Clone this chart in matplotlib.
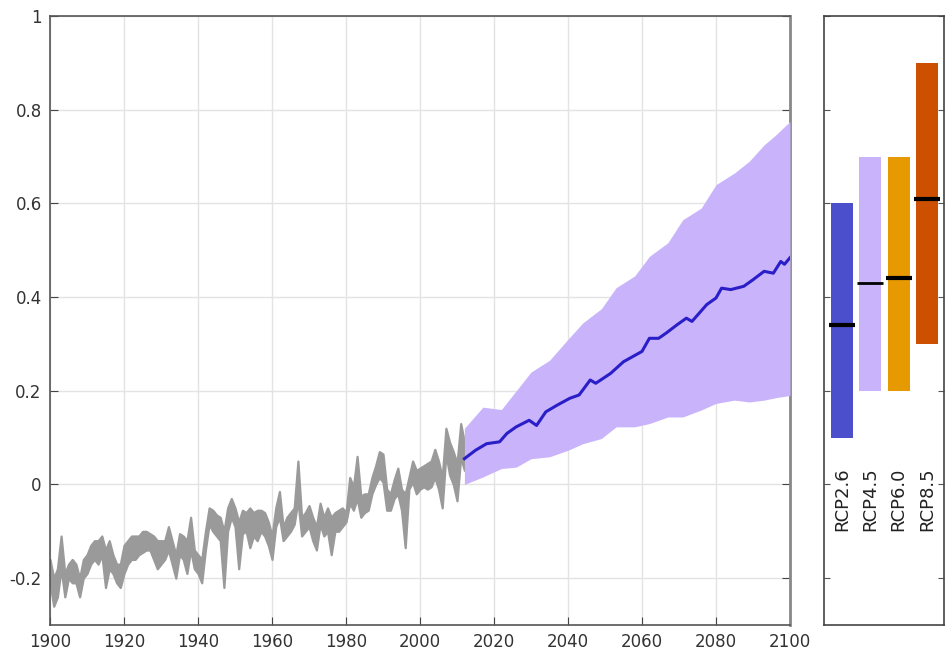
import matplotlib
matplotlib.use("Agg")
import matplotlib.pyplot as plt
import numpy as np

# historical record, 1900-2012: lower / upper edge of grey band
hist_years = np.arange(1900, 2013)
hist_low = [
    -0.21, -0.26, -0.24, -0.18, -0.24, -0.20, -0.21, -0.21, -0.24, -0.20,
    -0.19, -0.17, -0.16, -0.17, -0.15, -0.22, -0.18, -0.19, -0.21, -0.22,
    -0.19, -0.17, -0.16, -0.16, -0.15, -0.145, -0.14, -0.14, -0.16, -0.18,
    -0.17, -0.16, -0.14, -0.17, -0.20, -0.15, -0.16, -0.19, -0.14, -0.18,
    -0.19, -0.21, -0.14, -0.085, -0.10, -0.11, -0.12, -0.22, -0.10, -0.07,
    -0.09, -0.18, -0.105, -0.10, -0.135, -0.11, -0.12, -0.10, -0.11, -0.13,
    -0.16, -0.09, -0.07, -0.12, -0.11, -0.10, -0.085, -0.035, -0.11, -0.10,
    -0.09, -0.12, -0.14, -0.085, -0.11, -0.10, -0.15, -0.10, -0.10, -0.09,
    -0.08, -0.04, -0.055, -0.03, -0.07, -0.06, -0.055, -0.02, 0.0, 0.015,
    0.005, -0.055, -0.055, -0.03, -0.02, -0.055, -0.135, -0.01, 0.005, -0.02,
    -0.01, -0.005, -0.01, -0.005, 0.015, -0.01, -0.05, 0.065, 0.02, 0.0,
    -0.035, 0.058, 0.03,
]
hist_high = [
    -0.16, -0.20, -0.18, -0.11, -0.19, -0.17, -0.16, -0.17, -0.20, -0.16,
    -0.15, -0.13, -0.12, -0.12, -0.11, -0.14, -0.12, -0.15, -0.17, -0.17,
    -0.13, -0.12, -0.11, -0.11, -0.11, -0.10, -0.10, -0.105, -0.11, -0.12,
    -0.12, -0.12, -0.09, -0.12, -0.15, -0.105, -0.11, -0.12, -0.07, -0.14,
    -0.15, -0.16, -0.10, -0.05, -0.055, -0.065, -0.07, -0.10, -0.05, -0.03,
    -0.05, -0.08, -0.055, -0.06, -0.05, -0.06, -0.055, -0.055, -0.06, -0.08,
    -0.11, -0.05, -0.015, -0.09, -0.07, -0.06, -0.05, 0.05, -0.07, -0.06,
    -0.045, -0.07, -0.09, -0.04, -0.07, -0.05, -0.07, -0.06, -0.055, -0.05,
    -0.06, 0.015, -0.005, 0.06, -0.025, -0.02, -0.02, 0.015, 0.04, 0.07,
    0.065, -0.01, -0.02, 0.01, 0.035, -0.01, -0.02, 0.015, 0.05, 0.03,
    0.035, 0.04, 0.045, 0.05, 0.075, 0.05, 0.015, 0.12, 0.09, 0.07,
    0.045, 0.13, 0.09,
]

# projection range (purple band)
proj_years = [2012, 2017, 2022, 2026, 2030, 2035, 2040, 2044, 2049, 2053, 2058,
              2062, 2067, 2071, 2076, 2080, 2085, 2089, 2093, 2096, 2100]
proj_high = [0.12, 0.165, 0.16, 0.20, 0.24, 0.265, 0.31, 0.345, 0.375, 0.42, 0.445,
             0.487, 0.516, 0.565, 0.59, 0.64, 0.665, 0.69, 0.725, 0.745, 0.775]
proj_low = [0.0, 0.016, 0.034, 0.037, 0.055, 0.059, 0.073, 0.087, 0.098, 0.123, 0.123,
            0.13, 0.144, 0.144, 0.159, 0.173, 0.18, 0.176, 0.18, 0.185, 0.19]

# projection mean (blue line)
mean_years = [2012, 2015, 2018, 2021.5, 2023.5, 2026, 2029.5, 2031.5, 2034, 2037,
              2040.5, 2043, 2046, 2047.5, 2051.5, 2055, 2057.5, 2060, 2062, 2064.5,
              2066.5, 2069.5, 2072, 2073.5, 2077.5, 2080, 2081.5, 2084, 2087.5,
              2090, 2093, 2095.5, 2097.5, 2098.5, 2100]
mean_vals = [0.055, 0.073, 0.087, 0.091, 0.109, 0.123, 0.137, 0.126, 0.155, 0.169,
             0.184, 0.191, 0.223, 0.216, 0.237, 0.262, 0.273, 0.284, 0.312, 0.312,
             0.323, 0.341, 0.355, 0.348, 0.384, 0.398, 0.419, 0.416, 0.423,
             0.437, 0.455, 0.451, 0.476, 0.47, 0.484]

# scenario ranges for the side panel
scenarios = ["RCP2.6", "RCP4.5", "RCP6.0", "RCP8.5"]
scen_low = [0.10, 0.20, 0.20, 0.30]
scen_high = [0.60, 0.70, 0.70, 0.90]
scen_mid = [0.34, 0.43, 0.44, 0.61]
scen_colors = ["#4b4fcb", "#c9b4fc", "#e69900", "#cc5000"]

yticks = [-0.2, 0, 0.2, 0.4, 0.6, 0.8, 1]
ytick_labels = ["-0.2", "0", "0.2", "0.4", "0.6", "0.8", "1"]
xticks = list(range(1900, 2101, 20))

W, H = 952, 653
fig = plt.figure(figsize=(W / 100, H / 100), dpi=100)
ax = fig.add_axes([50 / W, 1 - 625 / H, 740 / W, 609 / H])
ax2 = fig.add_axes([824 / W, 1 - 625 / H, 120 / W, 609 / H])

ax.fill_between(hist_years, hist_low, hist_high, color="#9a9a9a", lw=1.6,
                edgecolor="#9a9a9a", zorder=2)
ax.fill_between(proj_years, proj_low, proj_high, color="#c9b4fc", lw=0, zorder=3)
ax.plot(mean_years, mean_vals, color="#2a1ec8", lw=2.2, zorder=4)

ax.set_xlim(1900, 2100)
ax.set_ylim(-0.3, 1.0)
ax.set_xticks(xticks)
ax.set_yticks(yticks)
ax.set_yticklabels(ytick_labels)
ax.grid(True, color="#e3e3e3", lw=1)
ax.set_axisbelow(True)
ax.tick_params(direction="in", length=6, color="#444444", labelcolor="#333333",
               labelsize=12, right=True, top=False, pad=6)
for side, sp in ax.spines.items():
    sp.set_color("#555555")
    sp.set_linewidth(1.2)
ax.spines["right"].set_linewidth(2)
ax.spines["right"].set_color("#888888")

for i, name in enumerate(scenarios):
    ax2.bar(i, scen_high[i] - scen_low[i], bottom=scen_low[i], width=0.78,
            color=scen_colors[i], zorder=2)
    lw = 2 if name == "RCP4.5" else 3
    ax2.hlines(scen_mid[i], i - 0.46, i + 0.46, color="black", lw=lw, zorder=3)
    ax2.text(i, 0.037, name, rotation=90, ha="center", va="top",
             fontsize=13, color="#222222")

ax2.set_xlim(-0.64, 3.6)
ax2.set_ylim(-0.3, 1.0)
ax2.set_xticks([])
ax2.set_yticks(yticks)
ax2.set_yticklabels([])
ax2.tick_params(direction="in", length=4, color="#555555", left=True, right=True)
for sp in ax2.spines.values():
    sp.set_color("#444444")
    sp.set_linewidth(1.2)

fig.savefig("out.png", dpi=100)
